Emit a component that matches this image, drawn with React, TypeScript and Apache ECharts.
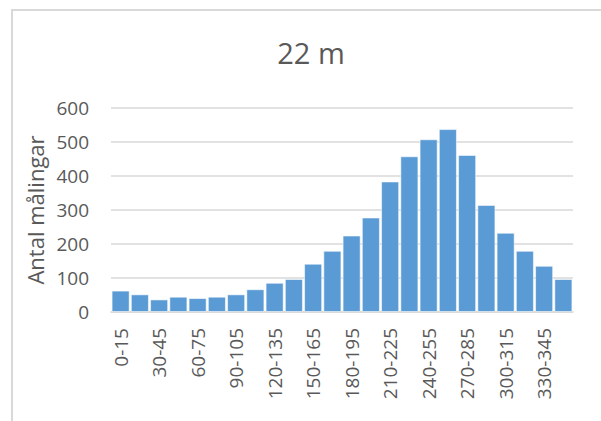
import React, { useEffect, useRef } from "react";
import * as echarts from "echarts";

const categories = [
  "0-15", "15-30", "30-45", "45-60", "60-75", "75-90", "90-105", "105-120",
  "120-135", "135-150", "150-165", "165-180", "180-195", "195-210", "210-225", "225-240",
  "240-255", "255-270", "270-285", "285-300", "300-315", "315-330", "330-345", "345-360",
];
const counts = [
  63, 52, 37, 45, 41, 45, 52, 67,
  86, 97, 142, 180, 225, 278, 384, 458,
  508, 538, 462, 315, 233, 180, 136, 97,
];
const titleText = "22 m";
const yAxisName = "Antal målingar";

const FONT = "'Open Sans', 'Noto Sans', sans-serif";
const TEXT = "#595959";
const GRID = "#d9d9d9";

export default function App() {
  const ref = useRef<HTMLDivElement>(null);
  useEffect(() => {
    if (!ref.current) return;
    const chart = echarts.init(ref.current, undefined, { renderer: "svg" });
    chart.setOption({
      animation: false,
      backgroundColor: "#ffffff",
      title: {
        text: titleText,
        left: 306,
        textAlign: "center",
        top: 33,
        textStyle: { fontFamily: FONT, fontSize: 29, fontWeight: "normal", color: TEXT },
      },
      graphic: [
        {
          type: "polyline",
          shape: { points: [[12, 421], [12, 10], [601, 10]] },
          style: { stroke: GRID, lineWidth: 2, fill: "none" },
          silent: true,
        },
      ],
      grid: { left: 111, right: 28, top: 108, bottom: 109, containLabel: false },
      xAxis: {
        type: "category",
        data: categories,
        axisLine: { show: true, lineStyle: { color: GRID, width: 1.5 } },
        axisTick: { show: false },
        axisLabel: {
          interval: 1,
          rotate: 90,
          margin: 16,
          fontFamily: FONT,
          fontSize: 19,
          color: TEXT,
        },
      },
      yAxis: {
        type: "value",
        min: 0,
        max: 600,
        interval: 100,
        name: yAxisName,
        nameLocation: "middle",
        nameGap: 62,
        nameRotate: 90,
        nameTextStyle: { fontFamily: FONT, fontSize: 22, color: TEXT },
        axisLine: { show: false },
        axisTick: { show: false },
        splitLine: { lineStyle: { color: GRID, width: 1.5 } },
        axisLabel: { margin: 22, fontFamily: FONT, fontSize: 19, color: TEXT },
      },
      series: [
        {
          type: "bar",
          data: counts,
          barCategoryGap: "6%",
          itemStyle: { color: "#5b9bd5", borderColor: "rgba(255,255,255,0.55)", borderWidth: 1 },
        },
      ],
    });
    return () => chart.dispose();
  }, []);
  return (
    <div
      ref={ref}
      style={{ position: "fixed", left: 0, top: 0, width: 601, height: 421 }}
    />
  );
}
